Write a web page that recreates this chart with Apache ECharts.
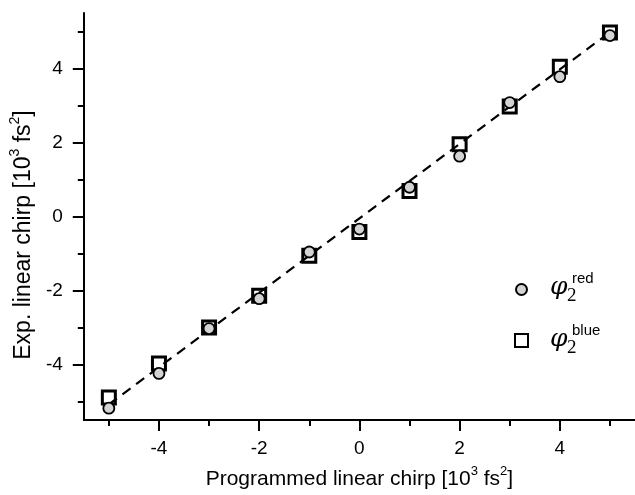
<!DOCTYPE html>
<html>
<head>
<meta charset="utf-8">
<script src="https://cdn.jsdelivr.net/npm/echarts@6/dist/echarts.min.js"></script>
<style>
html,body{margin:0;padding:0;background:#fff}
#chart{width:635px;height:495px}
</style>
</head>
<body>
<div id="chart"></div>
<script>
// programmed chirp (10^3 fs^2)
const programmed=[-5,-4,-3,-2,-1,0,1,2,3,4,5]
// measured chirp, red and blue parts
const redChirp=[-5.18,-4.24,-3.03,-2.22,-0.96,-0.34,0.79,1.63,3.08,3.78,4.89]
const blueChirp=[-4.89,-3.97,-3.0,-2.14,-1.06,-0.42,0.69,1.95,2.97,4.05,4.97]
// linear fit, end points
const fitX=[-5,5]
const fitY=[-5.08,4.98]
const majorTicks=[-4,-2,0,2,4]
const minorTicks=[-5,-3,-1,1,3,5]

const chart=echarts.init(document.getElementById('chart'))
const font='"Liberation Sans", Arial, sans-serif'

const unitRich=(size)=>({
	n:{fontSize:size,fontFamily:font,color:'#000',lineHeight:size+4,verticalAlign:'bottom'},
	s:{fontSize:Math.round(size*0.6),fontFamily:font,color:'#000',lineHeight:Math.round(size*0.6),verticalAlign:'top'}
})

const mainAxis=(extra)=>Object.assign({
	type:'value',
	min:-5.5,
	max:5.5,
	splitLine:{show:false},
	axisLine:{show:true,onZero:false,lineStyle:{color:'#000',width:2}},
	axisTick:{show:true,inside:false,length:11,customValues:majorTicks,lineStyle:{color:'#000',width:2}},
	axisLabel:{customValues:majorTicks,color:'#000',fontSize:19,fontFamily:font,margin:19},
	nameLocation:'middle'
},extra)
const minorAxis=(extra)=>Object.assign({
	type:'value',
	min:-5.5,
	max:5.5,
	splitLine:{show:false},
	axisLine:{show:false,onZero:false},
	axisTick:{show:true,inside:false,length:6,customValues:minorTicks,lineStyle:{color:'#000',width:2}},
	axisLabel:{show:false}
},extra)

chart.setOption({
	animation:false,
	grid:{left:83,right:-5,top:13,bottom:73},
	xAxis:[
		mainAxis({position:'bottom',
			name:'{n|Programmed linear chirp [10}{s|3}{n| fs}{s|2}{n|]}',nameGap:45,
			nameTextStyle:{rich:unitRich(21)}}),
		minorAxis({position:'bottom'})
	],
	yAxis:[
		mainAxis({position:'left',
			axisLabel:{customValues:majorTicks,color:'#000',fontSize:19,fontFamily:font,margin:21},
			name:'{n|Exp. linear chirp [10}{s|3}{n| fs}{s|2}{n|]}',nameGap:47,
			nameTextStyle:{rich:unitRich(23),padding:[0,37,0,0]}}),
		minorAxis({position:'left'})
	],
	legend:[
		{
			data:['red'],
			left:510,top:278,
			itemWidth:11,itemHeight:11,
			formatter:()=>'',
			selectedMode:false
		},
		{
			data:['blue'],
			left:509,top:328,
			itemWidth:13,itemHeight:13,
			formatter:()=>'',
			selectedMode:false
		}
	],
	graphic:[
		{type:'text',left:550,top:275,style:{text:'φ',font:'italic 25px "DejaVu Serif", serif',fill:'#000'}},
		{type:'text',left:567,top:287,style:{text:'2',font:'19px "Liberation Serif", serif',fill:'#000'}},
		{type:'text',left:572,top:271,style:{text:'red',font:'15px '+font,fill:'#000'}},
		{type:'text',left:550,top:327,style:{text:'φ',font:'italic 25px "DejaVu Serif", serif',fill:'#000'}},
		{type:'text',left:567,top:339,style:{text:'2',font:'19px "Liberation Serif", serif',fill:'#000'}},
		{type:'text',left:572,top:323,style:{text:'blue',font:'15px '+font,fill:'#000'}}
	],
	series:[
		{
			name:'fit',
			type:'line',
			data:fitX.map((x,i)=>[x,fitY[i]]),
			symbol:'none',
			lineStyle:{color:'#000',width:2.2,type:[10,7]},
			z:1
		},
		{
			name:'blue',
			type:'scatter',
			data:programmed.map((x,i)=>[x,blueChirp[i]]),
			symbol:'rect',
			symbolSize:13,
			itemStyle:{color:'rgba(255,255,255,0)',borderColor:'#000',borderWidth:3,opacity:1},
			z:2
		},
		{
			name:'red',
			type:'scatter',
			data:programmed.map((x,i)=>[x,redChirp[i]]),
			symbol:'circle',
			symbolSize:11,
			itemStyle:{color:'#d3d3d3',borderColor:'#000',borderWidth:1.8,opacity:1},
			z:3
		}
	]
})
</script>
</body>
</html>
